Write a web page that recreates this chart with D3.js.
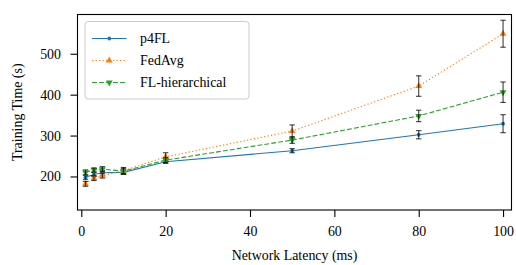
<!DOCTYPE html>
<html>
<head>
<meta charset="utf-8">
<script src="https://cdn.jsdelivr.net/npm/d3@7"></script>
<style>
  body { margin: 0; background: #fff; }
  text { font-family: "Liberation Serif", "DejaVu Serif", serif; }
</style>
</head>
<body>
<div id="chart"></div>
<script>
// data
const latency = [1, 3, 5, 10, 20, 50, 80, 100];
const p4flTime = [198, 205, 209, 210, 236, 263, 302, 329];
const p4flErr = [5, 5, 6, 5, 4, 5, 10, 22];
const fedavgTime = [182, 196, 202, 214, 248, 311, 421, 549];
const fedavgErr = [6, 6, 6, 8, 10, 15, 25, 33];
const hierTime = [210, 216, 218, 213, 240, 289, 348, 406];
const hierErr = [6, 5, 6, 6, 6, 8, 14, 25];
const xTicks = [0, 20, 40, 60, 80, 100];
const yTicks = [200, 300, 400, 500];

const series = [
  { name: 'p4FL', y: p4flTime, err: p4flErr, color: '#1f77b4', dash: null, marker: 'circle' },
  { name: 'FedAvg', y: fedavgTime, err: fedavgErr, color: '#ff7f0e', dash: '1.3,2.2', marker: 'up' },
  { name: 'FL-hierarchical', y: hierTime, err: hierErr, color: '#2ca02c', dash: '4.9,2.1', marker: 'down' }
];

const width = 516, height = 265;
const margin = { top: 14.5, right: 4.5, bottom: 55, left: 77.5 };

const svg = d3.select('#chart').append('svg')
  .attr('width', width)
  .attr('height', height);

const x = d3.scaleLinear().domain([-0.9, 102]).range([margin.left, width - margin.right]);
const y = d3.scaleLinear().domain([118, 596]).range([height - margin.bottom, margin.top]);

// axes
const xAxis = svg.append('g')
  .attr('transform', `translate(0,${height - margin.bottom})`)
  .call(d3.axisBottom(x).tickValues(xTicks).tickSize(7).tickPadding(9).tickFormat(d3.format('d')));
const yAxis = svg.append('g')
  .attr('transform', `translate(${margin.left},0)`)
  .call(d3.axisLeft(y).tickValues(yTicks).tickSize(7).tickPadding(9.5));
[xAxis, yAxis].forEach(a => {
  a.select('.domain').remove();
  a.selectAll('line').attr('stroke', '#000').attr('stroke-width', 1.1);
  a.selectAll('text').attr('fill', '#000').style('font-size', '13.9px')
    .style('font-family', '"Liberation Serif", serif');
});

// frame
svg.append('rect')
  .attr('x', margin.left).attr('y', margin.top)
  .attr('width', width - margin.left - margin.right)
  .attr('height', height - margin.top - margin.bottom)
  .attr('fill', 'none').attr('stroke', '#000').attr('stroke-width', 1.1);

// axis labels
svg.append('text')
  .attr('x', (margin.left + width - margin.right) / 2)
  .attr('y', 260)
  .attr('text-anchor', 'middle')
  .style('font-size', '13.9px')
  .text('Network Latency (ms)');
svg.append('text')
  .attr('transform', `translate(22,${(margin.top + height - margin.bottom) / 2}) rotate(-90)`)
  .attr('text-anchor', 'middle')
  .style('font-size', '13.9px')
  .text('Training Time (s)');

const tri = d3.symbol().type(d3.symbolTriangle).size(20);
function drawMarker(g, kind, color) {
  if (kind === 'circle') {
    g.append('circle').attr('r', 1.9).attr('fill', color);
  } else {
    g.append('path').attr('d', tri)
      .attr('transform', kind === 'down' ? 'rotate(180)' : null)
      .attr('fill', color);
  }
}

const line = d3.line().x(d => x(d[0])).y(d => y(d[1]));

series.forEach(s => {
  const pts = latency.map((lx, i) => [lx, s.y[i], s.err[i]]);
  const g = svg.append('g');
  g.append('path')
    .attr('d', line(pts))
    .attr('fill', 'none')
    .attr('stroke', s.color)
    .attr('stroke-width', 1.1)
    .attr('stroke-dasharray', s.dash);
  pts.forEach(p => {
    const m = g.append('g').attr('transform', `translate(${x(p[0])},${y(p[1])})`);
    drawMarker(m, s.marker, s.color);
  });
  // error bars
  const eb = g.append('g').attr('stroke', '#000').attr('stroke-opacity', 0.75).attr('stroke-width', 1.1);
  pts.forEach(p => {
    const cx = x(p[0]);
    eb.append('line').attr('x1', cx).attr('x2', cx).attr('y1', y(p[1] - p[2])).attr('y2', y(p[1] + p[2]));
    [p[1] - p[2], p[1] + p[2]].forEach(v => {
      eb.append('line').attr('x1', cx - 2.7).attr('x2', cx + 2.7).attr('y1', y(v)).attr('y2', y(v));
    });
  });
});

// legend
const legend = svg.append('g').attr('transform', 'translate(85,21.5)');
legend.append('rect')
  .attr('width', 164).attr('height', 77.5)
  .attr('rx', 3)
  .attr('fill', '#fff').attr('fill-opacity', 0.8)
  .attr('stroke', '#ccc').attr('stroke-width', 1);
series.forEach((s, i) => {
  const ly = 17 + i * 22;
  legend.append('line')
    .attr('x1', 7).attr('x2', 41.5).attr('y1', ly).attr('y2', ly)
    .attr('stroke', s.color).attr('stroke-width', 1.1)
    .attr('stroke-dasharray', s.dash);
  const m = legend.append('g').attr('transform', `translate(24.3,${ly})`);
  drawMarker(m, s.marker, s.color);
  legend.append('text')
    .attr('x', 55).attr('y', ly + 4.8)
    .style('font-size', '13.9px')
    .text(s.name);
});
</script>
</body>
</html>
